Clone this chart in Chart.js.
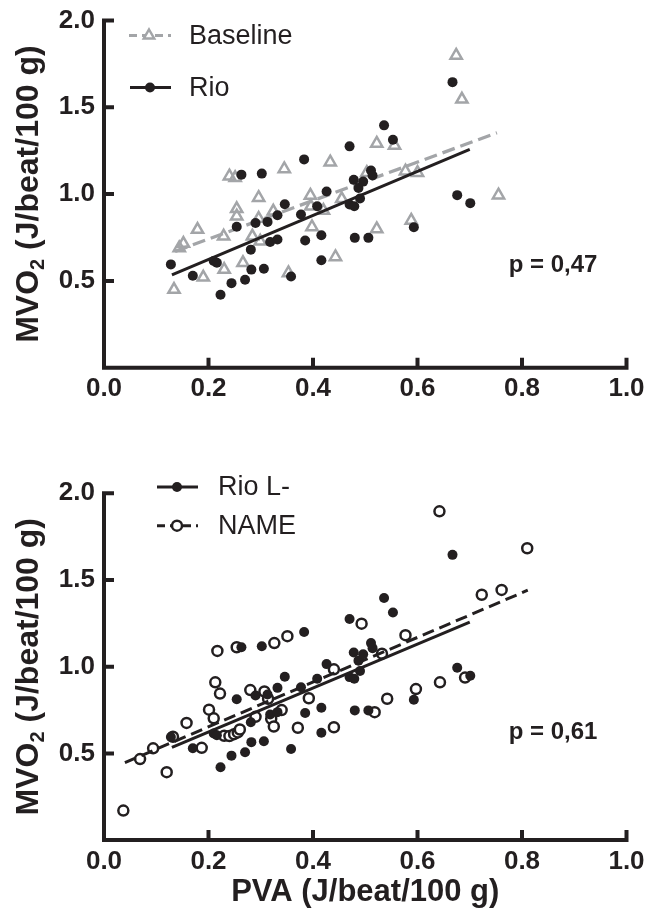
<!DOCTYPE html>
<html>
<head>
<meta charset="utf-8">
<script src="https://cdn.jsdelivr.net/npm/chart.js@4.4.0/dist/chart.umd.min.js"></script>
<style>
  body { margin: 0; background: #fff; }
  #wrap { position: relative; width: 646px; height: 919px; }
  canvas { position: absolute; left: 0; }
  #topChart { top: 0; }
  #bottomChart { top: 420px; }
</style>
</head>
<body>
<div id="wrap">
  <canvas id="topChart" width="646" height="420"></canvas>
  <canvas id="bottomChart" width="646" height="499"></canvas>
</div>
<script>
// Achsen
const xTicks = [0, 0.2, 0.4, 0.6, 0.8, 1.0];
const yTicks = [0.5, 1.0, 1.5, 2.0];

// Rio (oben) = Rio L- (unten), gefüllte Punkte
const rioX = [0.128, 0.170, 0.210, 0.216, 0.223, 0.244, 0.254, 0.263, 0.270, 0.281, 0.282,
  0.290, 0.302, 0.306, 0.313, 0.318, 0.332, 0.332, 0.346, 0.358, 0.377, 0.383, 0.385,
  0.408, 0.416, 0.416, 0.426, 0.470, 0.470, 0.479, 0.478, 0.480, 0.487, 0.490, 0.496,
  0.506, 0.511, 0.514, 0.536, 0.553, 0.593, 0.667, 0.676, 0.701];
const rioY = [0.595, 0.530, 0.615, 0.605, 0.420, 0.487, 0.812, 1.112, 0.507, 0.680, 0.565,
  0.834, 1.118, 0.570, 0.840, 0.724, 0.878, 0.738, 0.942, 0.525, 0.882, 1.200, 0.733,
  0.930, 0.763, 0.619, 1.015, 1.275, 0.940, 0.930, 1.082, 0.748, 1.035, 0.975, 1.072,
  0.748, 1.136, 1.107, 1.396, 1.313, 0.809, 1.645, 0.994, 0.948];

// Baseline, graue Dreiecke
const baselineX = [0.134, 0.144, 0.152, 0.179, 0.190, 0.229, 0.230, 0.240, 0.251, 0.254,
  0.254, 0.266, 0.284, 0.296, 0.296, 0.299, 0.324, 0.345, 0.353, 0.395, 0.396, 0.398,
  0.420, 0.433, 0.443, 0.455, 0.503, 0.522, 0.522, 0.556, 0.577, 0.588, 0.600, 0.674,
  0.685, 0.755];
const baselineY = [0.450, 0.690, 0.715, 0.796, 0.521, 0.757, 0.565, 1.103, 1.094, 0.915,
  0.873, 0.604, 0.757, 0.979, 0.859, 0.728, 0.901, 1.145, 0.546, 0.992, 0.930, 0.811,
  0.905, 1.184, 0.638, 0.973, 1.123, 1.292, 0.799, 1.280, 1.132, 0.848, 1.123, 1.799,
  1.546, 0.994];

// NAME, offene Kreise
const nameX = [0.037, 0.069, 0.094, 0.120, 0.132, 0.158, 0.187, 0.201, 0.210, 0.213, 0.217,
  0.222, 0.230, 0.240, 0.249, 0.256, 0.260, 0.254, 0.280, 0.290, 0.307, 0.314, 0.320,
  0.325, 0.326, 0.340, 0.351, 0.371, 0.392, 0.440, 0.440, 0.493, 0.518, 0.532, 0.542,
  0.577, 0.597, 0.642, 0.643, 0.691, 0.723, 0.761, 0.810];
const nameY = [0.170, 0.467, 0.529, 0.392, 0.596, 0.676, 0.532, 0.752, 0.702, 0.910, 1.091,
  0.845, 0.602, 0.600, 0.611, 0.621, 0.638, 1.112, 0.865, 0.711, 0.857, 0.815, 0.700,
  0.655, 1.136, 0.750, 1.176, 0.648, 0.818, 0.985, 0.651, 1.248, 0.738, 1.075, 0.815,
  1.182, 0.871, 1.896, 0.910, 0.937, 1.415, 1.443, 1.683];

// Regressionslinien (Endpunkte)
const baseFitX = [0.136, 0.752], baseFitY = [0.670, 1.353];
const rioFitX = [0.130, 0.700], rioFitY = [0.535, 1.257];
const nameFitX = [0.040, 0.811], nameFitY = [0.447, 1.441];

const INK = '#231f20';
const GRAY = '#a3a5a8';
const FONT = '"Liberation Sans", Arial, Helvetica, sans-serif';

const pts = (xs, ys) => xs.map((x, i) => ({ x, y: ys[i] }));

function marker(ctx, kind, x, y, color) {
  ctx.save();
  ctx.setLineDash([]);
  ctx.beginPath();
  if (kind === 'triangle') {
    const r = 6;
    ctx.moveTo(x, y - r);
    ctx.lineTo(x + 0.866 * r, y + 0.5 * r);
    ctx.lineTo(x - 0.866 * r, y + 0.5 * r);
    ctx.closePath();
    ctx.fillStyle = '#fff';
    ctx.fill();
    ctx.strokeStyle = color; ctx.lineWidth = 2.5; ctx.stroke();
  } else if (kind === 'ring') {
    ctx.arc(x, y, 5, 0, Math.PI * 2);
    ctx.fillStyle = '#fff'; ctx.fill();
    ctx.strokeStyle = color; ctx.lineWidth = 2.5; ctx.stroke();
  } else {
    ctx.arc(x, y, 5, 0, Math.PI * 2);
    ctx.fillStyle = color; ctx.fill();
  }
  ctx.restore();
}

function drawYTitle(ctx, cx, cy, size) {
  ctx.save();
  ctx.translate(cx, cy);
  ctx.rotate(-Math.PI / 2);
  ctx.fillStyle = INK;
  ctx.textBaseline = 'middle';
  ctx.textAlign = 'left';
  const big = `bold ${size}px ${FONT}`;
  const small = `bold ${Math.round(size * 0.62)}px ${FONT}`;
  const a = 'MVO', b = '2', c = ' (J/beat/100 g)';
  ctx.font = big;
  const wa = ctx.measureText(a).width, wc = ctx.measureText(c).width;
  ctx.font = small;
  const wb = ctx.measureText(b).width;
  let x = -(wa + wb + wc) / 2;
  ctx.font = big; ctx.fillText(a, x, 0); x += wa;
  ctx.font = small; ctx.fillText(b, x, size * 0.3); x += wb;
  ctx.font = big; ctx.fillText(c, x, 0);
  ctx.restore();
}

// Achsenlinien, Ticks nach innen, Legende, p-Wert
const decor = {
  id: 'decor',
  afterDatasetsDraw(chart, args, o) {
    const { ctx, scales: { x, y } } = chart;
    const x0 = x.getPixelForValue(0), x1 = x.getPixelForValue(1);
    const y0 = y.getPixelForValue(0), y1 = y.getPixelForValue(2);
    ctx.save();
    ctx.strokeStyle = INK;
    ctx.lineWidth = 4;
    ctx.beginPath();
    ctx.moveTo(x0, y1 - 2); ctx.lineTo(x0, y0 + 2);
    ctx.moveTo(x0 - 2, y0); ctx.lineTo(x1 + 2, y0);
    xTicks.forEach(v => {
      const px = x.getPixelForValue(v);
      ctx.moveTo(px, y0); ctx.lineTo(px, y0 - 10);
    });
    yTicks.forEach(v => {
      const py = y.getPixelForValue(v);
      ctx.moveTo(x0, py); ctx.lineTo(x0 + 10, py);
    });
    ctx.stroke();

    // Legende
    o.legend.forEach(it => {
      ctx.save();
      ctx.strokeStyle = it.color;
      ctx.lineWidth = 3;
      ctx.setLineDash(it.dash);
      ctx.beginPath();
      ctx.moveTo(it.x1, it.y); ctx.lineTo(it.x2, it.y);
      ctx.stroke();
      ctx.restore();
      marker(ctx, it.marker, it.mx, it.y, it.color);
      ctx.fillStyle = INK;
      ctx.font = `27px ${FONT}`;
      ctx.textBaseline = 'middle';
      ctx.textAlign = 'left';
      ctx.fillText(it.label, it.tx, it.y + 1);
    });

    // p-Wert
    ctx.fillStyle = INK;
    ctx.font = `bold 24px ${FONT}`;
    ctx.textAlign = 'center';
    ctx.textBaseline = 'middle';
    ctx.fillText(o.pText, o.pX, o.pY);

    drawYTitle(ctx, 29, (chart.chartArea.top + chart.chartArea.bottom) / 2, 32);
    ctx.restore();
  }
};
Chart.register(decor);

function makeChart(id, cfg) {
  return new Chart(document.getElementById(id), {
    type: 'scatter',
    data: { datasets: cfg.datasets },
    options: {
      responsive: false,
      animation: false,
      events: [],
      layout: { padding: { top: cfg.padTop, right: 19.5, bottom: 0, left: 0 } },
      plugins: {
        legend: { display: false },
        tooltip: { enabled: false },
        decor: { legend: cfg.legend, pText: cfg.pText, pX: 553, pY: cfg.pY }
      },
      scales: {
        x: {
          type: 'linear', min: 0, max: 1,
          afterBuildTicks: s => { s.ticks = xTicks.map(v => ({ value: v })); },
          afterFit: s => { s.height = cfg.xHeight; s.paddingLeft = 0; s.paddingRight = 0; },
          grid: { display: false, drawTicks: false },
          border: { display: false },
          ticks: {
            padding: 6, color: INK, maxRotation: 0,
            font: { family: FONT, size: 26, weight: 'bold' },
            callback: v => v.toFixed(1)
          },
          title: {
            display: !!cfg.xTitle, text: cfg.xTitle || '', color: INK,
            padding: { top: 0, bottom: 8 },
            font: { family: FONT, size: 31, weight: 'bold' }
          }
        },
        y: {
          type: 'linear', min: 0, max: 2,
          afterBuildTicks: s => { s.ticks = yTicks.map(v => ({ value: v })); },
          afterFit: s => { s.width = 104; s.paddingTop = 0; s.paddingBottom = 0; },
          grid: { display: false, drawTicks: false },
          border: { display: false },
          ticks: {
            padding: 9, color: INK,
            font: { family: FONT, size: 26, weight: 'bold' },
            callback: v => v.toFixed(1)
          }
        }
      }
    }
  });
}

makeChart('topChart', {
  padTop: 20.5,
  xHeight: 52.3,
  pText: 'p = 0,47',
  pY: 265,
  legend: [
    { label: 'Baseline', color: GRAY, dash: [8, 5], marker: 'triangle', x1: 129, x2: 171, y: 35.5, mx: 149, tx: 189 },
    { label: 'Rio', color: INK, dash: [], marker: 'dot', x1: 130, x2: 171, y: 87.5, mx: 150, tx: 189 }
  ],
  datasets: [
    { label: 'Rio', data: pts(rioX, rioY), pointRadius: 5, pointBackgroundColor: INK,
      pointBorderWidth: 0, pointBorderColor: INK, order: 0 },
    { label: 'Rio fit', data: pts(rioFitX, rioFitY), showLine: true, borderColor: INK,
      borderWidth: 3, pointRadius: 0, order: 1 },
    { label: 'Baseline fit', data: pts(baseFitX, baseFitY), showLine: true, borderColor: GRAY,
      borderWidth: 3.3, borderDash: [13, 6], pointRadius: 0, order: 2 },
    { label: 'Baseline', data: pts(baselineX, baselineY), pointStyle: 'triangle', pointRadius: 6.5,
      pointBackgroundColor: 'rgba(255,255,255,0)', pointBorderColor: GRAY, pointBorderWidth: 2.5, order: 3 }
  ]
});

makeChart('bottomChart', {
  padTop: 73.3,
  xHeight: 78.9,
  xTitle: 'PVA (J/beat/100 g)',
  pText: 'p = 0,61',
  pY: 312,
  legend: [
    { label: 'Rio L-', color: INK, dash: [], marker: 'dot', x1: 157, x2: 198, y: 67, mx: 177, tx: 218 },
    { label: 'NAME', color: INK, dash: [8, 5], marker: 'ring', x1: 157, x2: 198, y: 105.7, mx: 177, tx: 218 }
  ],
  datasets: [
    { label: 'Rio L-', data: pts(rioX, rioY), pointRadius: 5, pointBackgroundColor: INK,
      pointBorderWidth: 0, pointBorderColor: INK, order: 0 },
    { label: 'Rio L- fit', data: pts(rioFitX, rioFitY), showLine: true, borderColor: INK,
      borderWidth: 3, pointRadius: 0, order: 1 },
    { label: 'NAME fit', data: pts(nameFitX, nameFitY), showLine: true, borderColor: INK,
      borderWidth: 3, borderDash: [12, 6], pointRadius: 0, order: 2 },
    { label: 'NAME', data: pts(nameX, nameY), pointRadius: 5, pointBackgroundColor: '#fff',
      pointBorderColor: INK, pointBorderWidth: 2.5, order: 3 }
  ]
});
</script>
</body>
</html>
